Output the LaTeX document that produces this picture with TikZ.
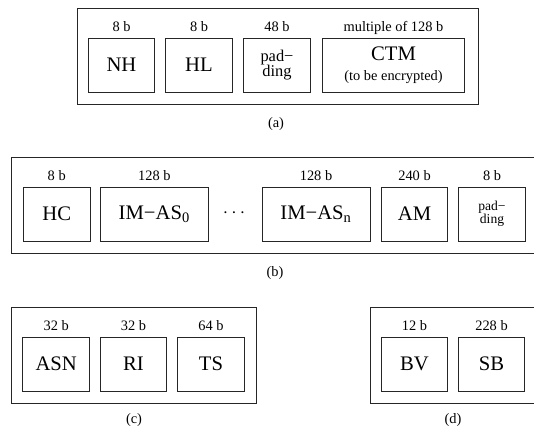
\documentclass[tikz,border=0pt]{standalone}
\usepackage{fontspec}
\setmainfont{Liberation Serif}
\usetikzlibrary{positioning}
\tikzset{
  field/.style={draw=black!85, line width=0.6pt, inner sep=0pt,
    minimum width=50pt, minimum height=40.5pt,
    font=\fontsize{15.5}{18}\selectfont},
  wide/.style={minimum width=#1},
  bits/.style={inner sep=2.5pt, text height=7pt, text depth=2pt,
    font=\fontsize{10.8}{12}\selectfont},
  frame/.style={draw=black!85, line width=0.6pt},
  caption/.style={inner sep=0pt, font=\fontsize{10.8}{12}\selectfont}
}

\begin{document}
\begin{tikzpicture}[x=0.75pt, y=-0.75pt]
  \useasboundingbox (0,0) rectangle (534,427);
  % (a) outer header
  \draw[frame] (77,8) rectangle (478,104);
  \node[field] (nh) at (121.5,65) {NH};
  \node[field] (hl) at (199,65) {HL};
  \node[field, align=center, font=\fontsize{12.3}{11.5}\selectfont] (pad-a) at (277,65) {pad−\\ding};
  \node[field, wide=107pt, align=center] (ctm) at (393.5,65)
    {CTM\\[-3pt]{\fontsize{10.8}{12}\selectfont (to be encrypted)}};
  \foreach \f/\s in {nh/8 b, hl/8 b, pad-a/48 b, ctm/multiple of 128 b}
    \node[bits, above=0pt of \f] (\f-bits) {\s};
  \node[caption] (cap-a) at (276,124) {(a)};
  % (b) hop-by-hop part
  \draw[frame] (11,157) rectangle (539,253);
  \node[field] (hc) at (56.7,214) {HC};
  \node[field, wide=81pt] (imas0) at (154.3,214) {IM−AS\textsubscript{0}};
  \node[font=\fontsize{15.5}{18}\selectfont] (dots) at (234,213) {$\cdots$};
  \node[field, wide=81pt] (imasn) at (316,214) {IM−AS\textsubscript{n}};
  \node[field] (am) at (414.5,214) {AM};
  \node[field, align=center, font=\fontsize{10.2}{9.5}\selectfont] (pad-b) at (492,214) {pad−\\ding};
  \foreach \f/\s in {hc/8 b, imas0/128 b, imasn/128 b, am/240 b, pad-b/8 b}
    \node[bits, above=0pt of \f] (\f-bits) {\s};
  \node[caption] (cap-b) at (275,273) {(b)};
  % (c) identification
  \draw[frame] (11,307) rectangle (256.5,403);
  \node[field] (asn) at (56.2,364) {ASN};
  \node[field] (ri) at (133.4,364) {RI};
  \node[field] (ts) at (211,364) {TS};
  \foreach \f/\s in {asn/32 b, ri/32 b, ts/64 b}
    \node[bits, above=0pt of \f] (\f-bits) {\s};
  \node[caption] (cap-c) at (134,420) {(c)};
  % (d) bit vector
  \draw[frame] (370,307) rectangle (540,403);
  \node[field] (bv) at (414.5,364) {BV};
  \node[field] (sb) at (491.5,364) {SB};
  \foreach \f/\s in {bv/12 b, sb/228 b}
    \node[bits, above=0pt of \f] (\f-bits) {\s};
  \node[caption] (cap-d) at (453,420) {(d)};
\end{tikzpicture}
\end{document}
